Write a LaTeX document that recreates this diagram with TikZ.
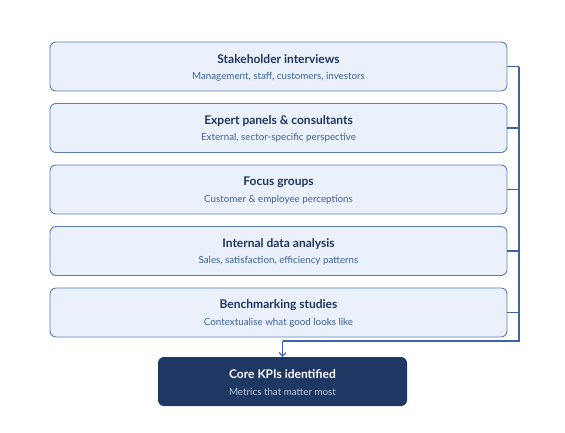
\documentclass[tikz,border=0pt]{standalone}
\usepackage{fontspec}
\setmainfont{Lato}
\usetikzlibrary{arrows.meta}
\definecolor{boxfill}{HTML}{EAF1FB}
\definecolor{boxline}{HTML}{5B7DB8}
\definecolor{titlec}{HTML}{1F3560}
\definecolor{subc}{HTML}{3D609C}
\definecolor{darkfill}{HTML}{1F3763}
\definecolor{darksub}{HTML}{B9C8E2}
\definecolor{busc}{HTML}{3F64A6}
\tikzset{
  srcbox/.style={draw=boxline, line width=0.9pt, fill=boxfill, rounded corners=6pt,
    minimum width=457pt, minimum height=49pt, inner sep=0pt},
  goalbox/.style={fill=darkfill, rounded corners=6pt,
    minimum width=249pt, minimum height=49pt, inner sep=0pt},
  bus/.style={draw=busc, line width=1.1pt},
  ttl/.style={font=\bfseries\fontsize{12}{14}\selectfont, text=titlec},
  sub/.style={font=\fontsize{9.8}{11}\selectfont, text=subc},
}
\begin{document}
\begin{tikzpicture}[x=1pt,y=-1pt]
\useasboundingbox (0,0) rectangle (565,432);
\foreach \n/\y/\t/\s in {
  a/66.5/Stakeholder interviews/{Management, staff, customers, investors},
  b/128/Expert panels \& consultants/{External, sector-specific perspective},
  c/189.5/Focus groups/{Customer \& employee perceptions},
  d/251/Internal data analysis/{Sales, satisfaction, efficiency patterns},
  e/312.5/Benchmarking studies/{Contextualise what good looks like}}{
  \node[srcbox] (\n) at (278.5,\y) {};
  \node[ttl] at (278.5,\y-7) {\t};
  \node[sub] at (278.5,\y+10) {\s};
  \coordinate (\n r) at (519,\y);
  \draw[bus] (\n.east) -- (\n r);
}
\node[goalbox] (g) at (282.5,381.5) {};
\node[font=\bfseries\fontsize{12}{14}\selectfont, text=white] at (282.5,374.5) {Core KPIs identified};
\node[font=\fontsize{9.8}{11}\selectfont, text=darksub] at (282.5,391.5) {Metrics that matter most};
\coordinate (bb) at (519,341);
\coordinate (bl) at (282.5,341);
\draw[bus] (ar) -- (bb) -- (bl);
\draw[bus, -{Straight Barb[length=3.5pt,width=7pt]}] (bl) -- (g.north);
\end{tikzpicture}
\end{document}
